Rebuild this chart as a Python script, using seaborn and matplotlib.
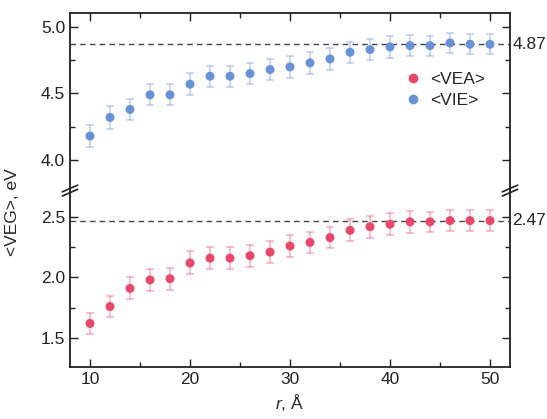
import matplotlib
matplotlib.use("Agg")
import matplotlib.pyplot as plt
import seaborn as sns
import pandas as pd
from matplotlib.lines import Line2D
from matplotlib.ticker import MultipleLocator, FormatStrFormatter

r = [10, 12, 14, 16, 18, 20, 22, 24, 26, 28, 30, 32, 34, 36, 38, 40, 42, 44, 46, 48, 50]
vie = [4.18, 4.32, 4.38, 4.49, 4.49, 4.57, 4.63, 4.63, 4.65, 4.68, 4.70, 4.73,
       4.76, 4.81, 4.83, 4.85, 4.86, 4.86, 4.88, 4.87, 4.87]
vie_err = [0.08, 0.085, 0.08, 0.08, 0.08, 0.085, 0.08, 0.08, 0.08, 0.08, 0.08, 0.08,
           0.08, 0.08, 0.08, 0.08, 0.08, 0.075, 0.075, 0.075, 0.075]
vea = [1.62, 1.76, 1.91, 1.98, 1.99, 2.12, 2.16, 2.16, 2.18, 2.21, 2.26, 2.29,
       2.33, 2.39, 2.42, 2.44, 2.46, 2.46, 2.47, 2.47, 2.47]
vea_err = [0.09, 0.09, 0.09, 0.09, 0.09, 0.095, 0.09, 0.09, 0.09, 0.09, 0.09, 0.09,
           0.09, 0.09, 0.09, 0.09, 0.09, 0.085, 0.085, 0.085, 0.085]
vie_limit = 4.87
vea_limit = 2.47

RED = "#E8496A"
BLUE = "#6892D6"

data = pd.DataFrame({
    "r": r * 2,
    "value": vea + vie,
    "err": vea_err + vie_err,
    "series": ["<VEA>"] * len(r) + ["<VIE>"] * len(r),
})

sns.set_theme(style="ticks")
plt.rcParams["font.family"] = ["Liberation Sans", "DejaVu Sans"]
plt.rcParams["mathtext.fontset"] = "custom"
plt.rcParams["mathtext.it"] = "Liberation Sans:italic"
plt.rcParams["mathtext.rm"] = "Liberation Sans"

fig = plt.figure(figsize=(5.47, 4.19), dpi=100)
gs = fig.add_gridspec(2, 1, height_ratios=[178, 176], hspace=0,
                      left=70 / 547, right=510 / 547, top=1 - 13 / 419, bottom=1 - 367 / 419)
ax_top = fig.add_subplot(gs[0])
ax_bot = fig.add_subplot(gs[1], sharex=ax_top)

panels = [(ax_top, "<VIE>", BLUE, vie_limit, (3.767, 5.105)),
          (ax_bot, "<VEA>", RED, vea_limit, (1.26, 2.715))]

for ax, name, color, limit, ylim in panels:
    sub = data[data["series"] == name]
    ax.errorbar(sub["r"], sub["value"], yerr=sub["err"], fmt="none",
                ecolor=color, alpha=0.45, elinewidth=1.1, capsize=3, capthick=1.1, zorder=2)
    sns.scatterplot(data=sub, x="r", y="value", color=color, s=42, edgecolor="none",
                    ax=ax, legend=False, zorder=3)
    ax.axhline(limit, color="#444444", lw=1, ls=(0, (4, 3)), zorder=1)
    ax.text(1.005, limit, f"{limit:.2f}", transform=ax.get_yaxis_transform(),
            ha="left", va="center", fontsize=12.5)
    ax.set_ylim(*ylim)
    ax.set_xlim(8, 52)
    ax.set_xlabel("")
    ax.set_ylabel("")
    ax.yaxis.set_major_locator(MultipleLocator(0.5))
    ax.yaxis.set_minor_locator(MultipleLocator(0.25))
    ax.yaxis.set_major_formatter(FormatStrFormatter("%.1f"))
    ax.xaxis.set_major_locator(MultipleLocator(10))
    ax.xaxis.set_minor_locator(MultipleLocator(5))
    ax.tick_params(which="both", direction="in", right=True, top=True, colors="#222222",
                   labelsize=12.5, width=1)
    ax.tick_params(which="major", length=6)
    ax.tick_params(which="minor", length=3.5)
    for sp in ax.spines.values():
        sp.set_linewidth(1.3)
        sp.set_color("#222222")

ax_top.spines["bottom"].set_visible(False)
ax_bot.spines["top"].set_visible(False)
ax_top.tick_params(which="both", bottom=False, labelbottom=False)
ax_bot.tick_params(which="both", top=False)

# break marks on left and right spines
pos_t = ax_top.get_position()
pos_b = ax_bot.get_position()
for xfig in (pos_t.x0, pos_t.x1):
    for dy in (-0.004, 0.006):
        fig.add_artist(Line2D([xfig - 0.014, xfig + 0.014],
                              [pos_b.y1 + dy - 0.008, pos_b.y1 + dy + 0.008],
                              color="#222222", lw=1.2, transform=fig.transFigure))

ax_bot.set_xlabel("$r$, Å", fontsize=12.5, labelpad=4)
fig.text(0.022, 1 - 212 / 419, "<VEG>, eV", rotation=90, ha="center", va="center", fontsize=12.5)

handles = [Line2D([], [], marker="o", ls="none", color=RED, markersize=6),
           Line2D([], [], marker="o", ls="none", color=BLUE, markersize=6)]
ax_top.legend(handles, ["<VEA>", "<VIE>"], frameon=False, fontsize=12.5,
              loc="upper left", bbox_to_anchor=(0.72, 0.755), handletextpad=0.4,
              labelspacing=0.3, handlelength=1.2)

fig.savefig("out.png", dpi=100)
